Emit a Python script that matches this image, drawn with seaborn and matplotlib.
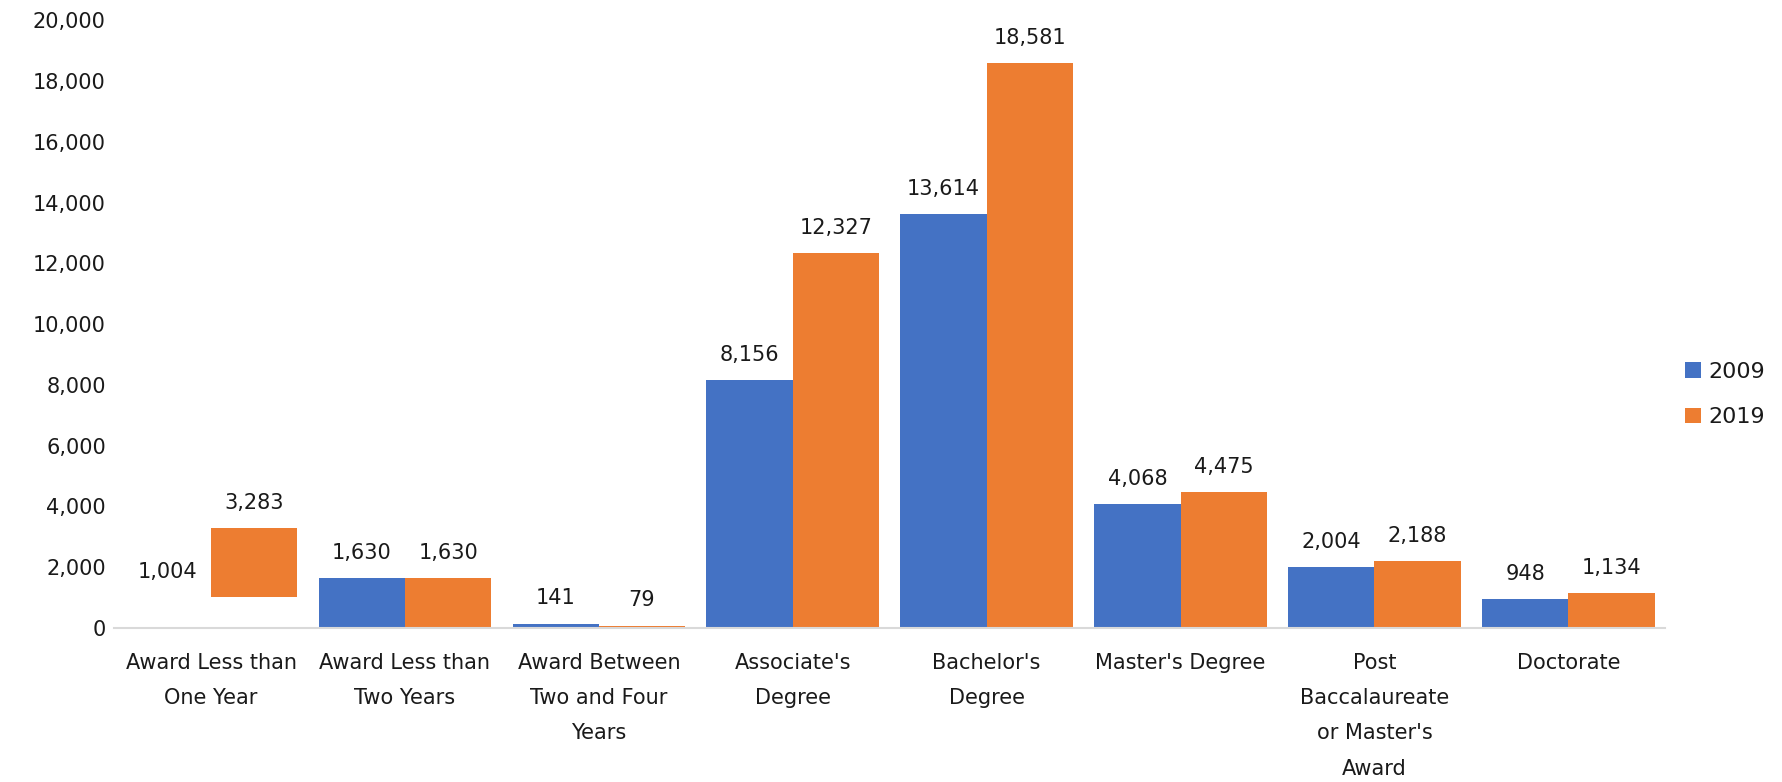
import pandas as pd
import numpy as np
import matplotlib.pyplot as plt
import seaborn as sns

categories = ["Award Less than\nOne Year", "Award Less than\nTwo Years",
              "Award Between\nTwo and Four\nYears", "Associate's\nDegree",
              "Bachelor's\nDegree", "Master's Degree",
              "Post\nBaccalaureate\nor Master's\nAward", "Doctorate"]
years = ["2009", "2019"]
values_2009 = [1004, 1630, 141, 8156, 13614, 4068, 2004, 948]
values_2019 = [3283, 1630, 79, 12327, 18581, 4475, 2188, 1134]
y_ticks = [0, 2000, 4000, 6000, 8000, 10000, 12000, 14000, 16000, 18000, 20000]

df = pd.DataFrame({
    'category': categories * 2,
    'year': [years[0]] * len(categories) + [years[1]] * len(categories),
    'value': values_2009 + values_2019,
})

sns.set_style('white')
plt.rcParams['font.family'] = ['DejaVu Sans']
fs = 15
txt = '#1A1A1A'

fig = plt.figure(figsize=(17.83, 7.82), dpi=100)
ax = fig.add_axes([0.064, 0.197, 0.87, 0.777])

sns.barplot(data=df, x='category', y='value', hue='year', order=categories,
            palette={'2009': '#4472C4', '2019': '#ED7D31'}, saturation=1,
            width=0.89, gap=0, linewidth=0, ax=ax, legend=True)

# the first group in the original: 2009 bar hidden, 2019 bar floats from the 2009 value
blue0 = ax.containers[0].patches[0]
blue0.set_visible(False)
orange0 = ax.containers[1].patches[0]
orange0.set_y(values_2009[0])
orange0.set_height(values_2019[0] - values_2009[0])

for c in ax.containers:
    ax.bar_label(c, labels=[f"{v:,.0f}" for v in c.datavalues], padding=11, fontsize=fs, color=txt)

ax.set_ylim(0, 20000)
ax.set_xlim(-0.5, len(categories) - 0.5)
ax.set_yticks(y_ticks)
ax.set_yticklabels([f"{v:,}" for v in y_ticks])
ax.set_xlabel('')
ax.set_ylabel('')
ax.tick_params(axis='x', length=0, pad=18, labelsize=fs, labelcolor=txt)
ax.tick_params(axis='y', length=0, pad=6, labelsize=fs, labelcolor=txt)
for lbl in ax.get_xticklabels():
    lbl.set_linespacing(1.95)

for s in ['top', 'right', 'left']:
    ax.spines[s].set_visible(False)
ax.spines['bottom'].set_color('#D9D9D9')
ax.spines['bottom'].set_linewidth(1.5)

leg = ax.legend(title=None, frameon=False, loc='center left', bbox_to_anchor=(1.0, 0.384),
                fontsize=fs + 1, handlelength=0.7, handleheight=0.7, handletextpad=0.35,
                labelspacing=1.15)
for t in leg.get_texts():
    t.set_color(txt)

plt.savefig('out.png', dpi=100)
plt.close()
